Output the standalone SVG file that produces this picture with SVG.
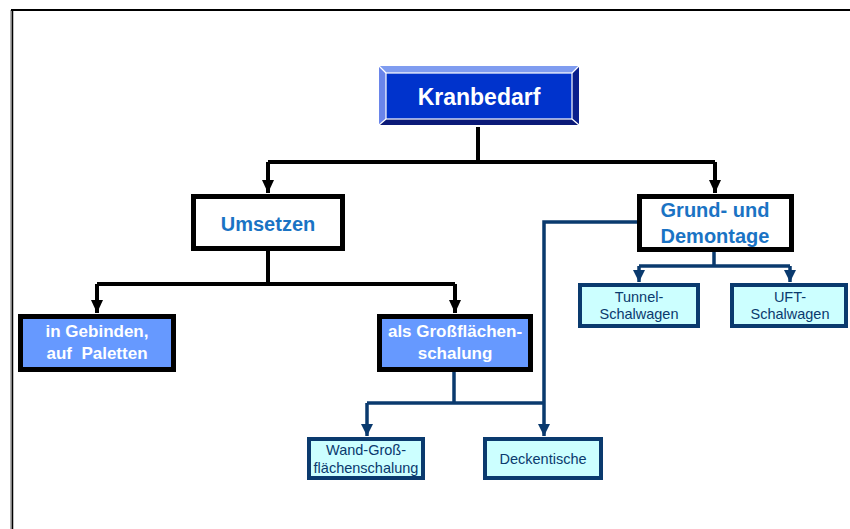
<svg xmlns="http://www.w3.org/2000/svg" width="850" height="529" viewBox="0 0 850 529">
  <defs>
    <marker id="arrBlack" markerUnits="userSpaceOnUse" markerWidth="14" markerHeight="12" refX="13" refY="6" orient="auto">
      <path d="M0,0 L13,6 L0,12 Z" fill="#000"/>
    </marker>
    <marker id="arrNavy" markerUnits="userSpaceOnUse" markerWidth="13" markerHeight="12" refX="12" refY="6" orient="auto">
      <path d="M0,0 L12,6 L0,12 Z" fill="#0a3a6e"/>
    </marker>
  </defs>
  <style>
    .blk { fill: none; stroke: #000; stroke-width: 4; }
    .nvy { fill: none; stroke: #0a3a6e; stroke-width: 3.5; }
    .white-box { fill: #fff; stroke: #000; stroke-width: 5; }
    .blue-box { fill: #6699ff; stroke: #000; stroke-width: 5; }
    .cyan-box { fill: #ccffff; stroke: #0a3a6e; stroke-width: 4; }
    .t-main { font-family: "Liberation Sans", Arial, sans-serif; font-weight: bold; font-size: 23px; fill: #fff; text-anchor: middle; }
    .t-sub { font-family: "Liberation Sans", Arial, sans-serif; font-weight: bold; font-size: 20px; fill: #1a73c4; text-anchor: middle; }
    .t-blue { font-family: "Liberation Sans", Arial, sans-serif; font-weight: bold; font-size: 17px; fill: #fff; text-anchor: middle; }
    .t-cyan { font-family: "Liberation Sans", Arial, sans-serif; font-size: 14.5px; fill: #0a3a6e; text-anchor: middle; }
  </style>

  <rect width="850" height="529" fill="#fff"/>

  <!-- page frame -->
  <g id="frame">
    <line x1="11" y1="10" x2="11" y2="529" stroke="#999" stroke-width="1.5"/>
    <line x1="12.5" y1="10" x2="12.5" y2="529" stroke="#000" stroke-width="1.5"/>
    <line x1="11" y1="10" x2="850" y2="10" stroke="#000" stroke-width="2"/>
  </g>

  <!-- connectors -->
  <g id="connectors">
    <polyline class="blk" points="478,127 478,162"/>
    <polyline class="blk" points="268,162 715,162"/>
    <polyline class="blk" points="268,162 268,193" marker-end="url(#arrBlack)"/>
    <polyline class="blk" points="715,162 715,193" marker-end="url(#arrBlack)"/>

    <polyline class="blk" points="268,251 268,284"/>
    <polyline class="blk" points="97,284 455,284"/>
    <polyline class="blk" points="97,284 97,313" marker-end="url(#arrBlack)"/>
    <polyline class="blk" points="455,284 455,313" marker-end="url(#arrBlack)"/>

    <polyline class="nvy" points="454,372 454,403"/>
    <polyline class="nvy" points="367,403 544,403"/>
    <polyline class="nvy" points="367,403 367,436" marker-end="url(#arrNavy)"/>
    <polyline class="nvy" points="637,222 544,222 544,436" marker-end="url(#arrNavy)"/>

    <polyline class="nvy" points="714,252 714,266"/>
    <polyline class="nvy" points="639,266 790,266"/>
    <polyline class="nvy" points="639,266 639,282" marker-end="url(#arrNavy)"/>
    <polyline class="nvy" points="790,266 790,282" marker-end="url(#arrNavy)"/>
  </g>

  <!-- bevelled root node -->
  <g id="kranbedarf">
    <polygon points="379,66 579,66 572,73 386,73" fill="#7f9cf0"/>
    <polygon points="379,66 386,73 386,119 379,125" fill="#6a85ea"/>
    <polygon points="579,66 579,125 572,119 572,73" fill="#0a1f8c"/>
    <polygon points="379,125 386,119 572,119 579,125" fill="#0b1a78"/>
    <rect x="386" y="73" width="186" height="46" fill="#0033cc"/>
    <rect x="386" y="73" width="186" height="46" fill="none" stroke="#fff" stroke-width="1.2"/>
    <g stroke="#fff" stroke-width="1.2">
      <line x1="379" y1="66" x2="386" y2="73"/>
      <line x1="579" y1="66" x2="572" y2="73"/>
      <line x1="379" y1="125" x2="386" y2="119"/>
      <line x1="579" y1="125" x2="572" y2="119"/>
    </g>
    <text class="t-main" x="479" y="105">Kranbedarf</text>
  </g>

  <g id="umsetzen">
    <rect class="white-box" x="193.5" y="196.5" width="149" height="52"/>
    <text class="t-sub" x="268" y="231">Umsetzen</text>
  </g>

  <g id="grund-demontage">
    <rect class="white-box" x="639.5" y="196.5" width="152" height="53"/>
    <text class="t-sub" x="715" y="217">Grund- und</text>
    <text class="t-sub" x="715" y="243">Demontage</text>
  </g>

  <g id="gebinden">
    <rect class="blue-box" x="20.5" y="316.5" width="153" height="53"/>
    <text class="t-blue" x="97" y="337">in Gebinden,</text>
    <text class="t-blue" x="97" y="359" xml:space="preserve">auf  Paletten</text>
  </g>

  <g id="grossflaechenschalung">
    <rect class="blue-box" x="379.5" y="316.5" width="151" height="53"/>
    <text class="t-blue" x="455" y="337">als Großflächen-</text>
    <text class="t-blue" x="455" y="359">schalung</text>
  </g>

  <g id="tunnel">
    <rect class="cyan-box" x="580" y="285" width="118" height="41"/>
    <text class="t-cyan" x="639" y="302">Tunnel-</text>
    <text class="t-cyan" x="639" y="319">Schalwagen</text>
  </g>

  <g id="uft">
    <rect class="cyan-box" x="732" y="285" width="114" height="41"/>
    <text class="t-cyan" x="790" y="302">UFT-</text>
    <text class="t-cyan" x="790" y="319">Schalwagen</text>
  </g>

  <g id="wand">
    <rect class="cyan-box" x="309" y="439" width="114" height="39"/>
    <text class="t-cyan" x="366" y="455">Wand-Groß-</text>
    <text class="t-cyan" x="366" y="473">flächenschalung</text>
  </g>

  <g id="deckentische">
    <rect class="cyan-box" x="485" y="439" width="116" height="39"/>
    <text class="t-cyan" x="543" y="464">Deckentische</text>
  </g>
</svg>
